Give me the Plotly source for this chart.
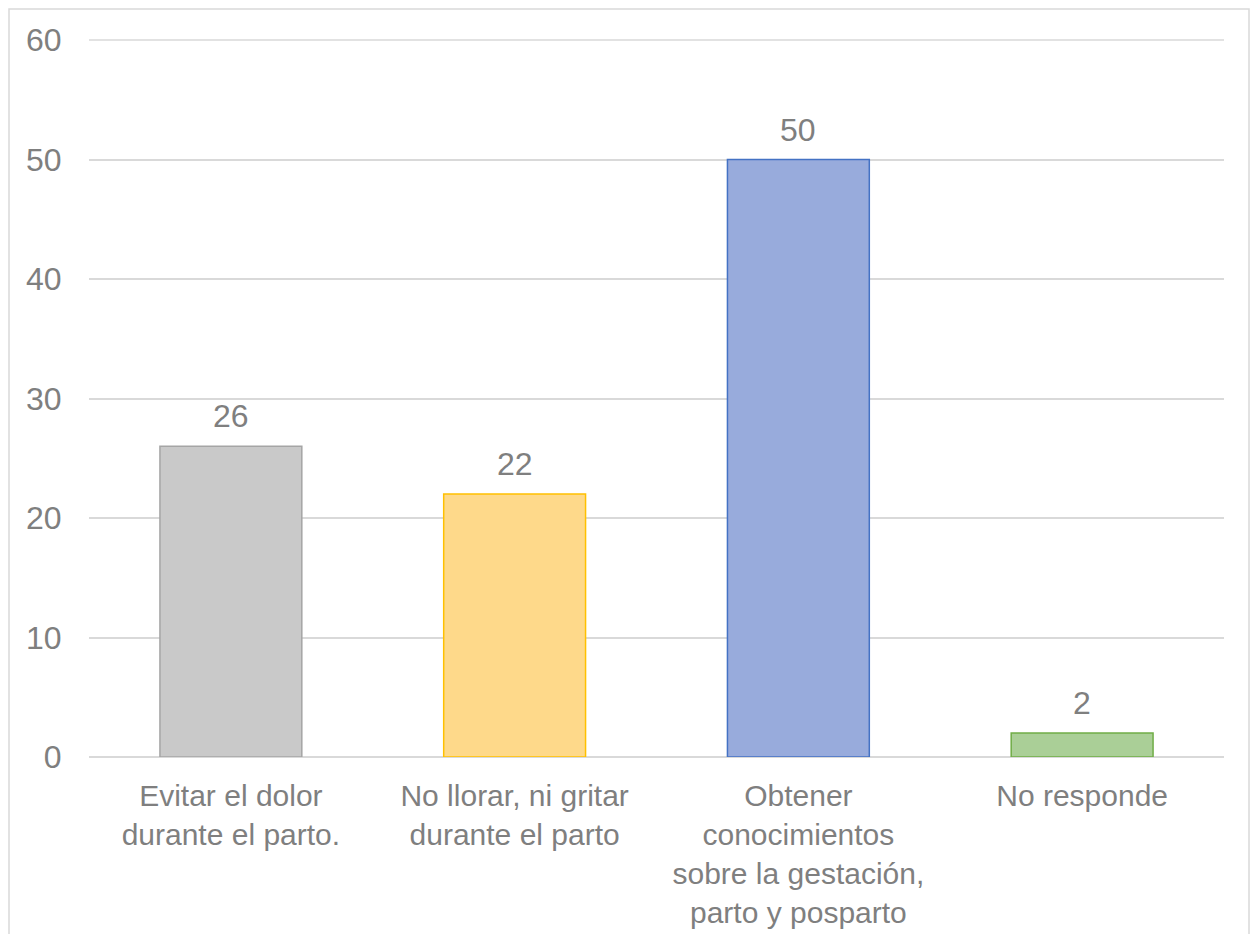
import plotly.graph_objects as go

categories = [
    "Evitar el dolor<br>durante el parto.",
    "No llorar, ni gritar<br>durante el parto",
    "Obtener<br>conocimientos<br>sobre la gestación,<br>parto y posparto",
    "No responde",
]
values = [26, 22, 50, 2]
y_ticks = [0, 10, 20, 30, 40, 50, 60]
fill_colors = ["#c9c9c9", "#fed98a", "#98abdc", "#aacf97"]
line_colors = ["#a5a5a5", "#ffc000", "#4472c4", "#70ad47"]

FONT = "Liberation Sans, Arial, sans-serif"
GRAY = "#7f7f7f"
GRID = "#d9d9d9"

fig = go.Figure()
fig.add_trace(go.Bar(
    x=categories,
    y=values,
    marker=dict(color=fill_colors, line=dict(color=line_colors, width=1.5)),
    cliponaxis=False,
    hoverinfo="skip",
))

for c, v in zip(categories, values):
    fig.add_annotation(
        x=c, y=v, text=str(v), showarrow=False,
        yanchor="bottom", yshift=10,
        font=dict(family=FONT, size=32, color=GRAY),
    )

W, H = 1252, 934
L, R, T, B = 89, 28, 40, 177
pw, ph = W - L - R, H - T - B

def px_x(x):
    return (x - L) / pw

def px_y(y):
    return (H - B - y) / ph

y_max = max(y_ticks)

fig.update_layout(
    width=W, height=H,
    margin=dict(l=L, r=R, t=T, b=B),
    paper_bgcolor="white",
    plot_bgcolor="white",
    bargap=0.5,
    showlegend=False,
    font=dict(family=FONT, size=30, color=GRAY),
    xaxis=dict(
        showgrid=False,
        showline=False,
        automargin=False,
        ticks="outside",
        ticklen=12,
        tickcolor="rgba(0,0,0,0)",
        tickfont=dict(family=FONT, size=30, color=GRAY),
        fixedrange=True,
    ),
    yaxis=dict(
        range=[0, y_max],
        tickvals=y_ticks,
        automargin=False,
        showgrid=True,
        gridcolor=GRID,
        gridwidth=1.5,
        zeroline=True,
        zerolinecolor=GRID,
        zerolinewidth=1.5,
        showline=False,
        ticks="outside",
        ticklen=20,
        tickcolor="rgba(0,0,0,0)",
        tickfont=dict(family=FONT, size=32, color=GRAY),
        fixedrange=True,
    ),
    shapes=[
        dict(
            type="rect", xref="paper", yref="paper",
            x0=px_x(9), x1=px_x(1249), y0=px_y(945), y1=px_y(9),
            line=dict(color=GRID, width=1.5),
            fillcolor="rgba(0,0,0,0)",
            layer="below",
        ),
        dict(
            type="line", xref="paper", yref="paper",
            x0=0, x1=1, y0=1, y1=1,
            line=dict(color=GRID, width=1.5),
            layer="below",
        ),
    ],
)

fig.write_html("out.html")
